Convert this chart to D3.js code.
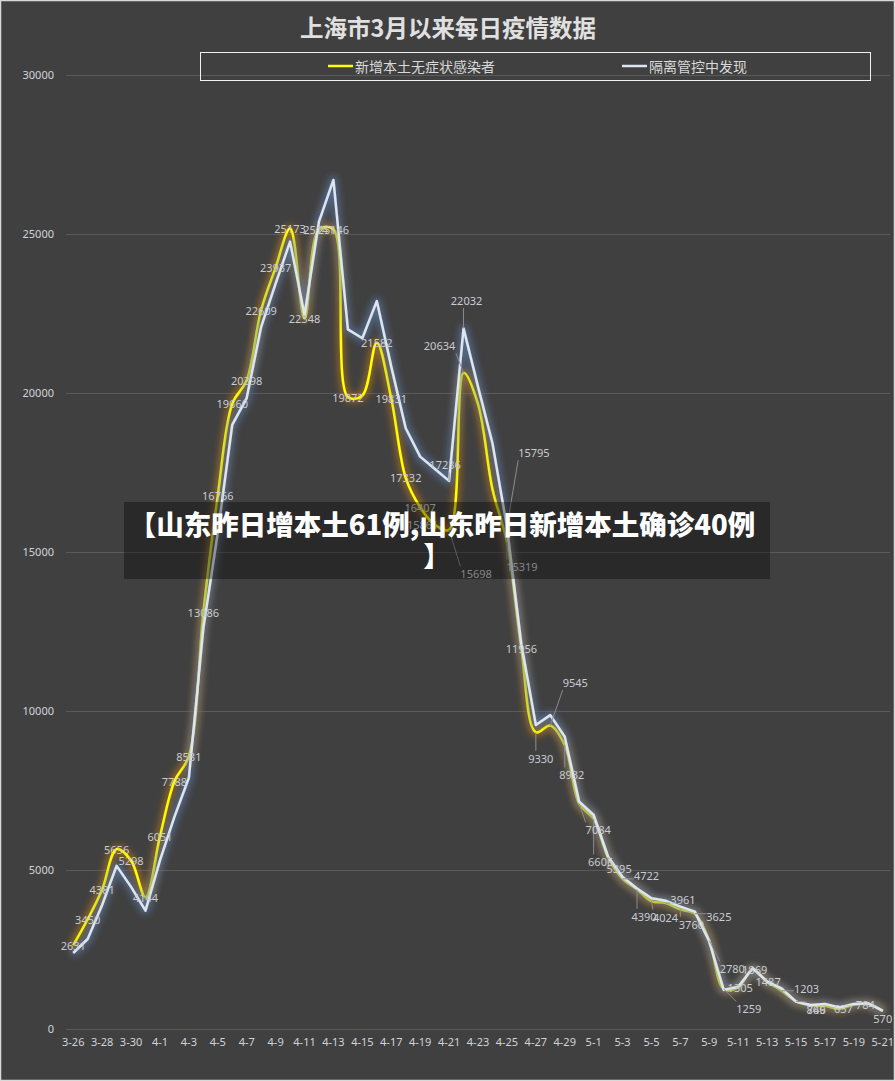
<!DOCTYPE html>
<html>
<head>
<meta charset="utf-8">
<style>
  body { margin: 0; background: #fff; }
  svg { display: block; font-family: "Noto Sans CJK SC", "Noto Sans", sans-serif; }
</style>
</head>
<body>
<svg id="chart" width="895" height="1081"></svg>
<script src="https://cdn.jsdelivr.net/npm/d3@7/dist/d3.min.js"></script>
<script>
// dates 3-26 .. 5-21
var dates = ["3-26","3-27","3-28","3-29","3-30","3-31",
  "4-1","4-2","4-3","4-4","4-5","4-6","4-7","4-8","4-9","4-10",
  "4-11","4-12","4-13","4-14","4-15","4-16","4-17","4-18","4-19","4-20",
  "4-21","4-22","4-23","4-24","4-25","4-26","4-27","4-28","4-29","4-30",
  "5-1","5-2","5-3","5-4","5-5","5-6","5-7","5-8","5-9","5-10",
  "5-11","5-12","5-13","5-14","5-15","5-16","5-17","5-18","5-19","5-20","5-21"];

// 新增本土无症状感染者
var asymptomatic = [2631,3450,4381,5656,5298,4144,
  6051,7788,8581,13086,16766,19660,20398,22609,23937,25173,
  22348,25141,25146,19872,19923,21582,19831,17332,16407,15861,
  15698,20634,19657,16983,15319,11956,9330,9545,8932,7084,
  6606,5395,4722,4390,4024,3961,3760,3625,2780,1259,
  1305,1869,1487,1203,869,746,727,637,770,784,570];

// 隔离管控中发现
var quarantine = [2390,2830,3900,5130,4470,3720,
  5300,6670,7900,12600,15600,19000,19840,22080,23440,24760,
  22450,25390,26700,22000,21720,22890,20830,18890,18000,17620,
  17236,22032,20200,18420,15795,12100,9560,9870,9190,7150,
  6730,5420,4780,4420,4110,4030,3850,3690,2750,1230,
  1330,1910,1490,1280,860,755,790,680,790,810,570];

var yTicks = [0,5000,10000,15000,20000,25000,30000];

// which points carry a data label, and how far the label was dragged
var labelsA = [
  [0,0,0],[1,0,0],[2,0,0],[3,0,0],[4,0,0],[5,0,0],[6,0,0],[7,0,0],[8,0,0],
  [9,0,0],[10,0,0],[11,0,0],[12,0,0],[13,0,0],[14,0,0],[15,0,0],[16,0,0],
  [17,0,0],[18,0,0],[19,0,0],[21,0,0],[22,0,0],[23,0,0],[24,0,0],[25,-12,0],
  [26,27,44],[27,-24,-27],[30,15,25],[31,0,0],[32,5,26],[33,25,-43],
  [34,7,30],[35,19,26],[36,7,43],[37,11,11],[38,24,-3],[39,7,27],[40,14,16],
  [41,17,-4],[42,11,15],[43,24,3],[44,23,28],[45,25,20],[46,2,0],[47,2,0],
  [48,1,0],[49,25,-2],[50,20,8],[51,6,4],[53,4,0],[55,-3,0],[56,0,8]];
var labelsQ = [[26,-4,-16],[27,3,-28],[30,27,-74]];

var svg = d3.select("#chart");
var W = 895, H = 1081;

// background
svg.append("rect").attr("x",0.5).attr("y",0.5).attr("width",W-1).attr("height",H-1)
  .attr("fill","#404040").attr("stroke","#d9d9d9").attr("stroke-width",1.5);

var x = d3.scaleBand().domain(dates).range([66, 890]);
var y = d3.scaleLinear().domain([0, 30000]).range([1029, 75]);
var cx = function(d){ return x(d) + x.bandwidth()/2; };

// glow filters
var defs = svg.append("defs");
function glow(id, color, op) {
  var f = defs.append("filter").attr("id", id)
    .attr("filterUnits","userSpaceOnUse").attr("x",0).attr("y",0).attr("width",W).attr("height",H);
  f.append("feMorphology").attr("in","SourceAlpha").attr("operator","dilate").attr("radius",2).attr("result","d");
  f.append("feGaussianBlur").attr("in","d").attr("stdDeviation",3.5).attr("result","b");
  f.append("feFlood").attr("flood-color",color).attr("flood-opacity",op);
  f.append("feComposite").attr("in2","b").attr("operator","in").attr("result","g");
  var m = f.append("feMerge");
  m.append("feMergeNode").attr("in","g");
  m.append("feMergeNode").attr("in","SourceGraphic");
}
glow("glowY", "#c07a1a", 0.7);
glow("glowW", "#5b79a6", 0.75);

// gridlines
svg.append("g")
  .attr("transform","translate(66,0)")
  .call(d3.axisRight(y).tickValues(yTicks).tickSize(824).tickFormat(""))
  .call(function(g){ g.select(".domain").remove(); })
  .selectAll("line").attr("stroke","#5a5a5a").attr("stroke-width",1);

// y axis labels
svg.append("g")
  .attr("transform","translate(58,0)")
  .call(d3.axisLeft(y).tickValues(yTicks).tickSize(0).tickPadding(4).tickFormat(d3.format("d")))
  .call(function(g){ g.select(".domain").remove(); })
  .selectAll("text").attr("fill","#d0d4da").style("font-size","11px")
  .style("font-family","'Noto Sans', sans-serif");

// x axis labels
svg.append("g")
  .attr("transform","translate(0,1036)")
  .call(d3.axisBottom(x).tickValues(dates.filter(function(d,i){ return i % 2 === 0; })).tickSize(0).tickPadding(2))
  .call(function(g){ g.select(".domain").remove(); })
  .selectAll("text").attr("fill","#d0d4da").style("font-size","11px")
  .style("font-family","'Noto Sans', sans-serif");

// lines
var lineSmooth = d3.line()
  .x(function(d,i){ return cx(dates[i]); }).y(function(d){ return y(d); })
  .curve(d3.curveCatmullRom.alpha(0.5));
var lineStraight = d3.line()
  .x(function(d,i){ return cx(dates[i]); }).y(function(d){ return y(d); });

svg.append("path").datum(asymptomatic)
  .attr("d", lineSmooth).attr("fill","none")
  .attr("stroke","#ffff00").attr("stroke-width",2.5).attr("stroke-linejoin","round")
  .attr("filter","url(#glowY)");
svg.append("path").datum(quarantine)
  .attr("d", lineStraight).attr("fill","none")
  .attr("stroke","#dde5f0").attr("stroke-width",2.5).attr("stroke-linejoin","round")
  .attr("filter","url(#glowW)");

// data labels with leader lines
var labelLayer = svg.append("g");
function drawLabels(list, values) {
  list.forEach(function(l) {
    var i = l[0];
    var px = cx(dates[i]), py = y(values[i]);
    var lx = px + l[1], ly = py + l[2];
    var t = labelLayer.append("text")
      .attr("x", lx).attr("y", ly)
      .attr("text-anchor","middle").attr("dominant-baseline","central")
      .attr("fill","#c9ccd2").style("font-size","11px")
      .style("font-family","'Noto Sans', sans-serif")
      .text(values[i]);
    if (Math.sqrt(l[1]*l[1] + l[2]*l[2]) > 14) {
      var b = t.node().getBBox();
      var ex = Math.max(b.x, Math.min(px, b.x + b.width));
      var ey = Math.max(b.y, Math.min(py, b.y + b.height));
      labelLayer.insert("line", "text")
        .attr("x1", px).attr("y1", py).attr("x2", ex).attr("y2", ey)
        .attr("stroke","#8c8c8c").attr("stroke-width",1);
    }
  });
}
drawLabels(labelsA, asymptomatic);
drawLabels(labelsQ, quarantine);

// title
svg.append("text").attr("x", 448).attr("y", 27)
  .attr("text-anchor","middle").attr("dominant-baseline","central")
  .attr("fill","#e0e0e0").style("font-size","23.5px").style("font-weight","bold")
  .text("上海市3月以来每日疫情数据");

// legend
var legend = svg.append("g");
legend.append("rect").attr("x",200.5).attr("y",52.5).attr("width",670).attr("height",28)
  .attr("fill","none").attr("stroke","#f0f0f0").attr("stroke-width",1);
var legendItems = [
  {name:"新增本土无症状感染者", color:"#ffff00", x:328},
  {name:"隔离管控中发现", color:"#dde5f0", x:622}
];
legendItems.forEach(function(d) {
  legend.append("line").attr("x1", d.x).attr("x2", d.x + 25).attr("y1", 66).attr("y2", 66)
    .attr("stroke", d.color).attr("stroke-width", 2.5);
  legend.append("text").attr("x", d.x + 27).attr("y", 66)
    .attr("dominant-baseline","central").attr("fill","#d9d9d9").style("font-size","14px")
    .text(d.name);
});

// overlay banner
svg.append("rect").attr("x",124).attr("y",502).attr("width",646).attr("height",77)
  .attr("fill","rgba(0,0,0,0.35)");
svg.append("text").attr("x", 442).attr("y", 523)
  .attr("text-anchor","middle").attr("dominant-baseline","central")
  .attr("fill","#ffffff").style("font-size","27.5px").style("font-weight","900")
  .text("【山东昨日增本土61例,山东昨日新增本土确诊40例");
svg.append("text").attr("x", 437).attr("y", 554)
  .attr("text-anchor","middle").attr("dominant-baseline","central")
  .attr("fill","#ffffff").style("font-size","27.5px").style("font-weight","900")
  .text("】");
</script>
</body>
</html>
